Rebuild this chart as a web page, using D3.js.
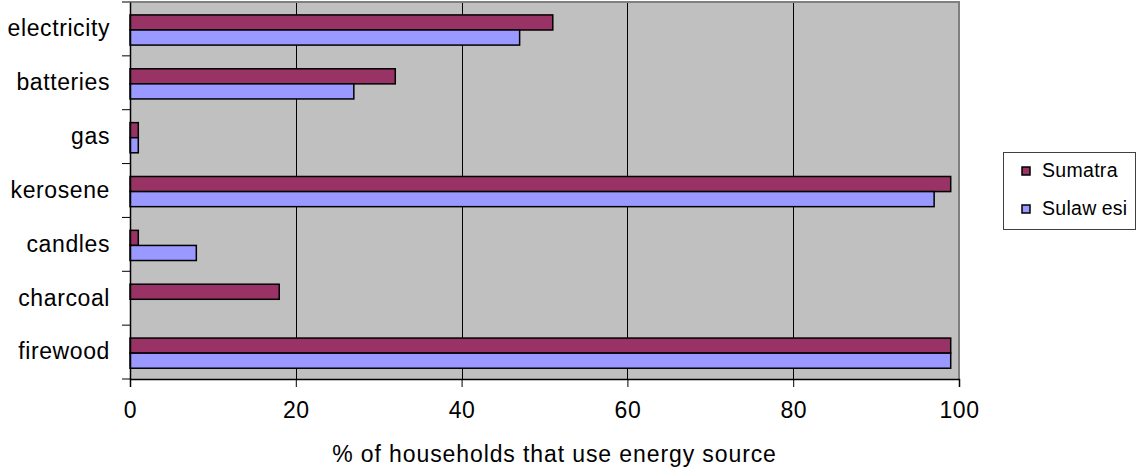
<!DOCTYPE html>
<html>
<head>
<meta charset="utf-8">
<script src="https://cdn.jsdelivr.net/npm/d3@7"></script>
<style>
  html, body { margin: 0; padding: 0; background: #fff; }
  svg { display: block; font-family: "Liberation Sans", Arial, sans-serif; }
</style>
</head>
<body>
<svg id="chart" width="1137" height="467"></svg>
<script>
// Energy sources, top to bottom
const categories = ["electricity", "batteries", "gas", "kerosene", "candles", "charcoal", "firewood"];
const seriesNames = ["Sumatra", "Sulawesi"];
const sumatraValues = [51, 32, 1, 99, 1, 18, 99];
const sulawesiValues = [47, 27, 1, 97, 8, 0, 99];
const xTicks = [0, 20, 40, 60, 80, 100];
const seriesColors = ["#993366", "#9999FF"];

const svg = d3.select("#chart");
const plot = { left: 130, top: 2, right: 959, bottom: 379 };
const labelFont = 23;

const x = d3.scaleLinear().domain([0, 100]).range([plot.left, plot.right]);
const y = d3.scaleBand().domain(categories).range([plot.top, plot.bottom]);
const bw = y.bandwidth();
const ySeries = d3.scaleBand().domain(seriesNames).range([bw * 0.24, bw * 0.8]);

const rows = categories.map((c, i) => ({
  category: c,
  values: [sumatraValues[i], sulawesiValues[i]]
}));

// plot background
svg.append("rect")
  .attr("x", plot.left).attr("y", plot.top)
  .attr("width", plot.right - plot.left).attr("height", plot.bottom - plot.top)
  .attr("fill", "#C0C0C0");

// vertical gridlines
svg.append("g").selectAll("line")
  .data(xTicks.filter(t => t > 0 && t < 100))
  .join("line")
  .attr("x1", d => Math.round(x(d)) + 0.5).attr("x2", d => Math.round(x(d)) + 0.5)
  .attr("y1", plot.top).attr("y2", plot.bottom)
  .attr("stroke", "#000").attr("stroke-width", 1);

// plot frame (top and right)
svg.append("path")
  .attr("d", `M${plot.left},${plot.top} H${plot.right} V${plot.bottom}`)
  .attr("fill", "none").attr("stroke", "#808080").attr("stroke-width", 2);

// bars
const groups = svg.append("g").selectAll("g")
  .data(rows)
  .join("g")
  .attr("transform", d => `translate(0,${y(d.category)})`);

groups.selectAll("rect")
  .data(d => d.values.map((v, j) => ({ name: seriesNames[j], value: v, color: seriesColors[j] })))
  .join("rect")
  .filter(d => d.value > 0)
  .attr("x", x(0))
  .attr("y", d => ySeries(d.name))
  .attr("width", d => x(d.value) - x(0))
  .attr("height", ySeries.bandwidth())
  .attr("fill", d => d.color)
  .attr("stroke", "#000")
  .attr("stroke-width", 1.5);

// y axis
const yAxis = d3.axisLeft(y).tickSize(0).tickPadding(20);
const yg = svg.append("g").attr("transform", `translate(${plot.left},0)`).call(yAxis);
yg.select(".domain").attr("stroke", "#000").attr("stroke-width", 1.5);
yg.selectAll("text").attr("font-size", labelFont).attr("fill", "#000")
  .attr("font-family", "'Liberation Sans', Arial, sans-serif")
  .attr("letter-spacing", "0.6px");
// category boundary ticks
svg.append("g").selectAll("line")
  .data(d3.range(categories.length + 1))
  .join("line")
  .attr("x1", plot.left - 8).attr("x2", plot.left)
  .attr("y1", i => plot.top + i * y.step()).attr("y2", i => plot.top + i * y.step())
  .attr("stroke", "#000").attr("stroke-width", 1);

// x axis
const xAxis = d3.axisBottom(x).tickValues(xTicks).tickSize(8).tickPadding(15);
const xg = svg.append("g").attr("transform", `translate(0,${plot.bottom})`).call(xAxis);
xg.select(".domain").attr("stroke", "#000").attr("stroke-width", 1.5);
xg.selectAll("line").attr("stroke", "#000");
xg.selectAll("text").attr("font-size", labelFont).attr("fill", "#000")
  .attr("font-family", "'Liberation Sans', Arial, sans-serif")
  .attr("letter-spacing", "0.5px");

// x axis title
svg.append("text")
  .attr("x", (plot.left + plot.right) / 2 + 10)
  .attr("y", 462)
  .attr("text-anchor", "middle")
  .attr("font-size", labelFont)
  .attr("letter-spacing", "0.9px")
  .text("% of households that use energy source");

// legend
const legend = svg.append("g");
legend.append("rect")
  .attr("x", 1003.5).attr("y", 152.5).attr("width", 132).attr("height", 77)
  .attr("fill", "#fff").attr("stroke", "#404040").attr("stroke-width", 1);

const items = legend.selectAll("g.item")
  .data(seriesNames)
  .join("g")
  .attr("class", "item")
  .attr("transform", (d, i) => `translate(0,${i * 38})`);

items.append("rect")
  .attr("x", 1022).attr("y", 167).attr("width", 8).attr("height", 8)
  .attr("fill", (d, i) => seriesColors[i])
  .attr("stroke", "#000").attr("stroke-width", 1.5);

const labels = items.append("text")
  .attr("x", 1042).attr("y", 176.5)
  .attr("font-size", 19.5)
  .attr("letter-spacing", "0.3px");
labels.each(function (d) {
  const t = d3.select(this);
  if (d === "Sulawesi") {
    t.append("tspan").text("Sulaw");
    t.append("tspan").attr("dx", 5).text("esi");
  } else {
    t.text(d);
  }
});
</script>
</body>
</html>
